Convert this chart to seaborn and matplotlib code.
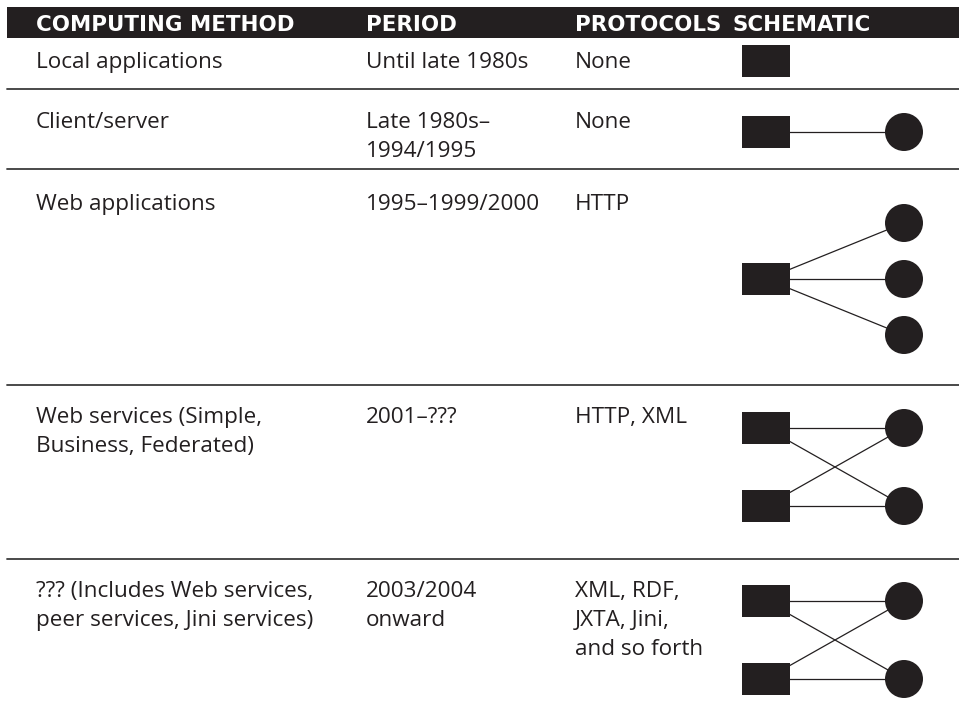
import matplotlib
matplotlib.use("Agg")
import matplotlib.pyplot as plt
from matplotlib.patches import Rectangle, Circle
import seaborn as sns

# Table content
headers = ["COMPUTING METHOD", "PERIOD", "PROTOCOLS", "SCHEMATIC"]
methods = ["Local applications", "Client/server", "Web applications",
           "Web services (Simple,\nBusiness, Federated)",
           "??? (Includes Web services,\npeer services, Jini services)"]
periods = ["Until late 1980s", "Late 1980s\u2013\n1994/1995", "1995\u20131999/2000",
           "2001\u2013???", "2003/2004\nonward"]
protocols = ["None", "None", "HTTP", "HTTP, XML",
             "XML, RDF,\nJXTA, Jini,\nand so forth"]
# schematic: number of clients (squares), servers (circles), and links
n_clients = [1, 1, 1, 2, 2]
n_servers = [0, 1, 3, 2, 2]
links = [[], [(0, 0)], [(0, 0), (0, 1), (0, 2)],
         [(0, 0), (0, 1), (1, 0), (1, 1)],
         [(0, 0), (0, 1), (1, 0), (1, 1)]]

# layout (pixels)
W, H = 959, 724
col_x = [36, 366, 575, 733]
row_top = [38, 89, 169, 385, 559, 724]
text_pad = [30, 39, 41, 38, 38]
line_gap = 29
group_y = [61, 132, 279, 467, 640]
node_gap = {1: 0, 2: 78, 3: 56}
sq_x, sq_w, sq_h = 766, 48, 32
circ_x, circ_r = 904, 19
ink = "#231f20"

sns.set_theme(style="white")
plt.rcParams["font.family"] = ["Open Sans", "DejaVu Sans"]

fig = plt.figure(figsize=(W / 100, H / 100), dpi=100)
ax = fig.add_axes([0, 0, 1, 1])
ax.set_xlim(0, W)
ax.set_ylim(H, 0)
ax.axis("off")

# header bar
ax.add_patch(Rectangle((7, 7), W - 7, 31, color=ink, lw=0))
for x, h in zip(col_x, headers):
    ax.text(x, 31, h, color="white", fontsize=15.4, fontweight="bold",
            family="DejaVu Sans", va="baseline", ha="left")

# row separators
for y in row_top[1:-1]:
    ax.plot([7, W], [y, y], color="#3a3a3a", lw=1.3)


def node_positions(n, center):
    gap = node_gap.get(n, 0)
    return [center + (i - (n - 1) / 2) * gap for i in range(n)]


for i in range(len(methods)):
    base = row_top[i] + text_pad[i]
    for x, txt in zip(col_x[:3], [methods[i], periods[i], protocols[i]]):
        for j, line in enumerate(txt.split("\n")):
            ax.text(x, base + j * line_gap, line, color=ink, fontsize=16.2,
                    va="baseline", ha="left")

    cy = node_positions(n_clients[i], group_y[i])
    sy = node_positions(n_servers[i], group_y[i])
    for a, b in links[i]:
        ax.plot([sq_x, circ_x], [cy[a], sy[b]], color=ink, lw=0.9, zorder=2)
    for y in cy:
        ax.add_patch(Rectangle((sq_x - sq_w / 2, y - sq_h / 2), sq_w, sq_h,
                               color=ink, lw=0, zorder=3))
    for y in sy:
        ax.add_patch(Circle((circ_x, y), circ_r, color=ink, lw=0, zorder=3))

fig.savefig("out.png", dpi=100)
